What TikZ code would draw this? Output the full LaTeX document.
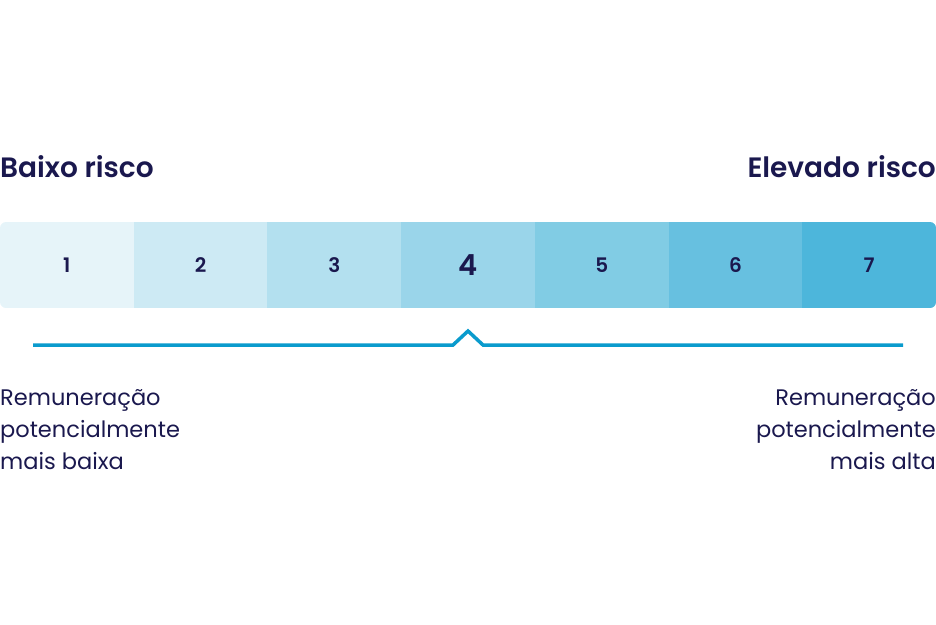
\documentclass[tikz,border=0pt]{standalone}
\usepackage{fontspec}
\setmainfont{Poppins}[BoldFont={Poppins SemiBold}]
\usetikzlibrary{positioning}
\definecolor{risk_navy}{RGB}{26,24,78}
\definecolor{risk_blue}{RGB}{10,155,205}
\definecolor{risk1}{RGB}{230,244,249}
\definecolor{risk2}{RGB}{205,234,244}
\definecolor{risk3}{RGB}{179,224,239}
\definecolor{risk4}{RGB}{154,213,234}
\definecolor{risk5}{RGB}{129,204,228}
\definecolor{risk6}{RGB}{103,192,224}
\definecolor{risk7}{RGB}{77,182,219}

\begin{document}
\begin{tikzpicture}[x=1pt, y=-1pt, every node/.style={text=risk_navy, inner sep=0pt},
    seg/.style={minimum width=133.72pt, minimum height=86pt},
    head/.style={font=\bfseries\fontsize{28}{28}\selectfont},
    note/.style={font=\fontsize{22.5}{32}\selectfont}]
      \useasboundingbox (0,0) rectangle (936,624);
      \node[head, anchor=base west] (low) at (0,177) {Baixo risco};
      \node[head, anchor=base east] (high) at (936,177) {Elevado risco};
      \begin{scope}
        \clip[rounded corners=6pt] (0,222) rectangle (936,308);
        \foreach \i/\sz in {1/20,2/20,3/20,4/29,5/20,6/20,7/20}
          \node[seg, fill=risk\i, font=\bfseries\fontsize{\sz}{\sz}\selectfont] (seg\i) at ({(\i-0.5)*133.714},265) {\i};
      \end{scope}
      % bracket with notch under 4
      \coordinate (brL) at (33,345);
      \coordinate (brR) at (903,345);
      \coordinate (peak) at (468,331);
      \draw[risk_blue, line width=3.5pt] (brL) -- ([xshift=-15pt]peak |- brL) -- (peak) -- ([xshift=15pt]peak |- brL) -- (brR);
      \node[note, align=left, anchor=base west] (lowtxt) at (0,469) {Remuneração\\potencialmente\\mais baixa};
      \node[note, align=right, anchor=base east] (hightxt) at (936,469) {Remuneração\\potencialmente\\mais alta};
    \end{tikzpicture}
\end{document}
